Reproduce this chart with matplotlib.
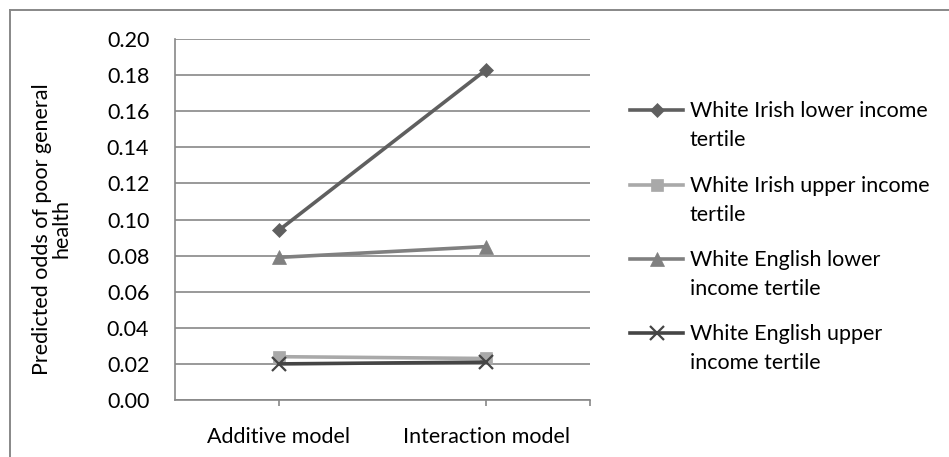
import matplotlib
matplotlib.use("Agg")
import matplotlib.pyplot as plt
from matplotlib.lines import Line2D

plt.rcParams['font.family'] = ['Lato', 'DejaVu Sans']

categories = ["Additive model", "Interaction model"]
series_names = [
    "White Irish lower income\ntertile",
    "White Irish upper income\ntertile",
    "White English lower\nincome tertile",
    "White English upper\nincome tertile",
]
irish_lower = [0.094, 0.183]
irish_upper = [0.024, 0.023]
english_lower = [0.079, 0.085]
english_upper = [0.020, 0.021]
yticks = [0.00, 0.02, 0.04, 0.06, 0.08, 0.10, 0.12, 0.14, 0.16, 0.18, 0.20]

series = [irish_lower, irish_upper, english_lower, english_upper]
colors = ["#5f5f5f", "#a9a9a9", "#808080", "#454545"]
markers = ["D", "s", "^", "x"]
msizes = [7.5, 8.5, 9.5, 9.5]

FS = 15.5
W, H = 949, 457
fig = plt.figure(figsize=(W / 100, H / 100), dpi=100)

def fx(px):
    return px / W

def fy(py):
    return 1 - py / H

ax = fig.add_axes([fx(175), fy(400), fx(590) - fx(175), fy(39) - fy(400)])
x = list(range(len(categories)))
for vals, c, m, ms in zip(series, colors, markers, msizes):
    ax.plot(x, vals, color=c, lw=2.6, marker=m, markersize=ms,
            markeredgewidth=1.6 if m == "x" else 0.5, markeredgecolor=c,
            markerfacecolor=c, zorder=3, clip_on=False)

ax.set_xlim(-0.5, 1.5)
ax.set_ylim(0, 0.20)
ax.set_yticks(yticks)
ax.set_yticklabels([f"{v:.2f}" for v in yticks])
ax.set_xticks([0, 1, 1.5])
ax.set_xticklabels(categories + [""])
ax.yaxis.grid(True, color="#888888", lw=1.2)
ax.set_axisbelow(True)
for s in ["top", "right"]:
    ax.spines[s].set_visible(False)
for s in ["left", "bottom"]:
    ax.spines[s].set_color("#888888")
    ax.spines[s].set_linewidth(1.2)
ax.tick_params(axis="y", length=0, pad=18.5, labelsize=FS)
ax.tick_params(axis="x", length=4.5, width=1.2, color="#888888", pad=15, labelsize=FS)

fig.text(fx(52), fy(229), "Predicted odds of poor general\nhealth", rotation=90,
         ha="center", va="center", multialignment="center", fontsize=FS,
         linespacing=0.95)

# legend (manual, Excel-style: marker aligned with first line)
leg_y = [110, 185, 259, 333]
for yy, name, c, m, ms in zip(leg_y, series_names, colors, markers, msizes):
    fig.add_artist(Line2D([fx(630), fx(683)], [fy(yy), fy(yy)], color=c, lw=2.6,
                          transform=fig.transFigure))
    fig.add_artist(Line2D([fx(657)], [fy(yy)], color=c, marker=m, markersize=ms,
                          markeredgewidth=1.6 if m == "x" else 0.5,
                          markeredgecolor=c, markerfacecolor=c,
                          transform=fig.transFigure))
    fig.text(fx(690), fy(yy - 9), name, ha="left", va="top", fontsize=FS,
             linespacing=1.55, transform=fig.transFigure)

# outer chart border (top and left visible)
fig.add_artist(Line2D([fx(10), fx(949)], [fy(10), fy(10)], color="#888888", lw=1.4,
                      transform=fig.transFigure))
fig.add_artist(Line2D([fx(10), fx(10)], [fy(10), fy(457)], color="#888888", lw=1.4,
                      transform=fig.transFigure))

fig.savefig("out.png", dpi=100, facecolor="white")
